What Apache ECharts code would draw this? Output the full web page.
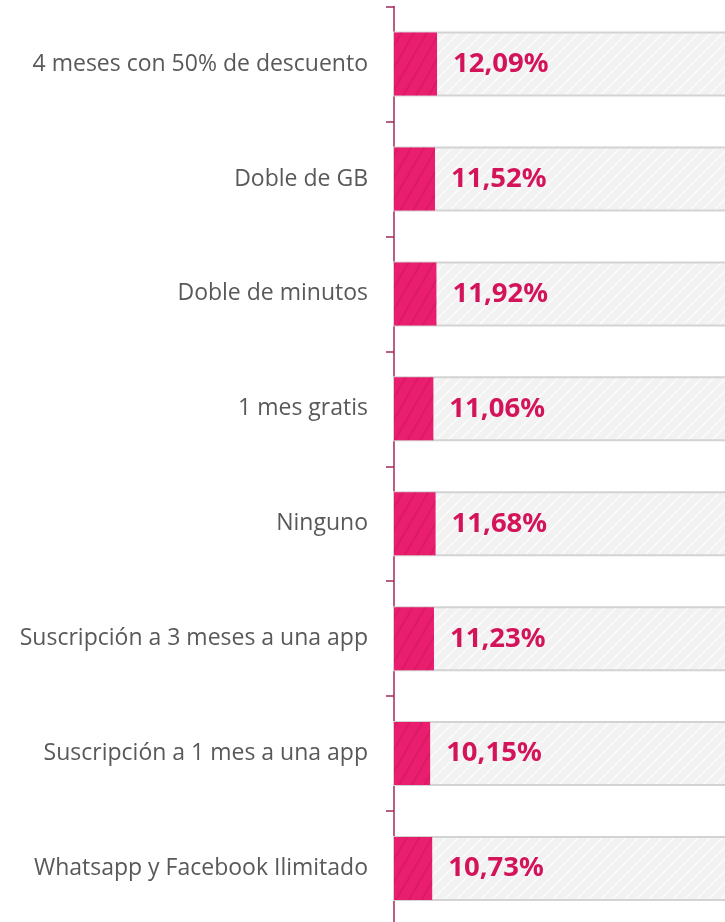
<!DOCTYPE html>
<html>
<head>
<meta charset="utf-8">
<script src="https://cdn.jsdelivr.net/npm/echarts@6/dist/echarts.min.js"></script>
<style>
  html, body { margin: 0; padding: 0; background: #ffffff; overflow: hidden; }
  #chart { width: 750px; height: 926px; }
</style>
</head>
<body>
<div id="chart"></div>
<script>
// Promociones preferidas (% de respuestas)
const categories = [
  '4 meses con 50% de descuento',
  'Doble de GB',
  'Doble de minutos',
  '1 mes gratis',
  'Ninguno',
  'Suscripción a 3 meses a una app',
  'Suscripción a 1 mes a una app',
  'Whatsapp y Facebook Ilimitado'
];
const values = [12.09, 11.52, 11.92, 11.06, 11.68, 11.23, 10.15, 10.73];

// light hatched fill for the bar track
function hatchPattern(base, line) {
  const c = document.createElement('canvas');
  c.width = 12; c.height = 12;
  const g = c.getContext('2d');
  g.fillStyle = base;
  g.fillRect(0, 0, 12, 12);
  g.strokeStyle = line;
  g.lineWidth = 1.5;
  g.beginPath();
  g.moveTo(-3, 15); g.lineTo(15, -3);
  g.moveTo(-3, 3); g.lineTo(3, -3);
  g.moveTo(9, 15); g.lineTo(15, 9);
  g.stroke();
  return c;
}

const chart = echarts.init(document.getElementById('chart'), null, { renderer: 'canvas' });

chart.setOption({
  animation: false,
  backgroundColor: '#ffffff',
  grid: { left: 394, right: 0, top: 6.6, bottom: 0, containLabel: false },
  xAxis: {
    type: 'value',
    min: 0,
    max: 100,
    show: false
  },
  yAxis: {
    type: 'category',
    data: categories,
    inverse: true,
    axisLine: { show: true, lineStyle: { color: '#a5275c', width: 1.5 } },
    axisTick: { show: true, length: 8, lineStyle: { color: '#a5275c', width: 1.5 } },
    axisLabel: {
      margin: 26,
      color: '#595959',
      fontSize: 23,
      fontFamily: 'Open Sans'
    }
  },
  series: [{
    type: 'bar',
    data: values,
    barWidth: 63,
    showBackground: true,
    backgroundStyle: {
      color: { image: hatchPattern('#f2f2f2', '#fbfbfb'), repeat: 'repeat' },
      borderColor: '#d3d3d3',
      borderWidth: 2
    },
    itemStyle: {
      color: '#e91e6e',
      decal: {
        symbol: 'rect',
        symbolSize: 1,
        color: 'rgba(160,0,60,0.18)',
        dashArrayX: [1, 0],
        dashArrayY: [2, 9],
        rotation: -Math.PI / 3
      }
    },
    label: {
      show: true,
      position: 'right',
      distance: 16,
      color: '#d4145a',
      fontSize: 27.5,
      fontWeight: 'bold',
      fontFamily: 'Noto Sans',
      formatter: p => p.value.toFixed(2).replace('.', ',') + '%'
    }
  }]
});
</script>
</body>
</html>
